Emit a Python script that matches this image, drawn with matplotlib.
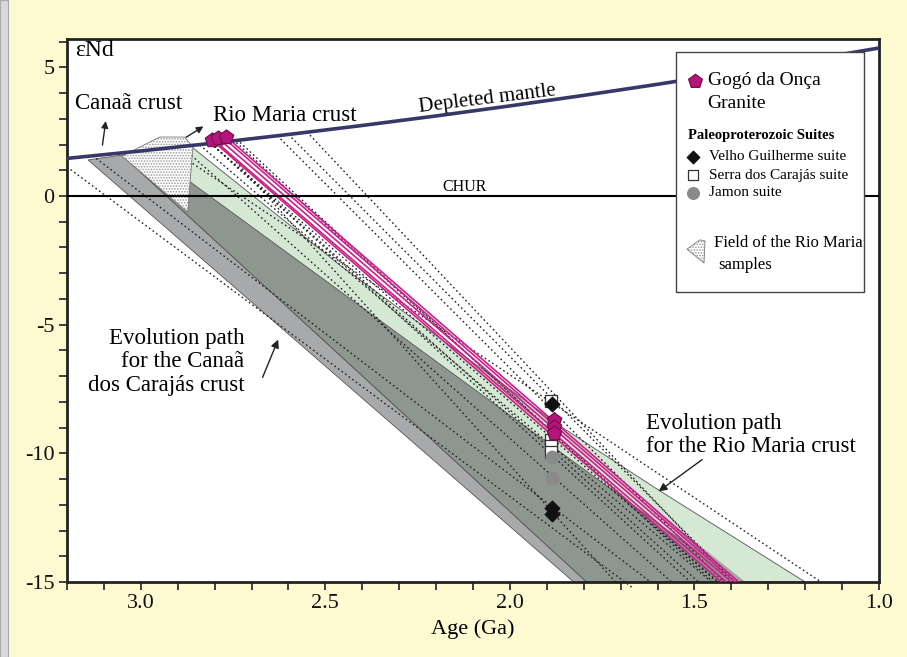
import matplotlib
matplotlib.use("Agg")
import matplotlib.pyplot as plt
from matplotlib.patches import Polygon, Rectangle

plt.rcParams['font.family'] = ['Liberation Serif', 'DejaVu Serif']
plt.rcParams['axes.unicode_minus'] = False
plt.rcParams['hatch.linewidth'] = 0.8

# Depleted mantle curve (age Ga, eNd)
dm_age = [3.2, 3.0, 2.8, 2.6, 2.4, 2.2, 2.0, 1.8, 1.6, 1.4, 1.2, 1.0]
dm_eps = [1.46, 1.75, 2.06, 2.39, 2.74, 3.11, 3.50, 3.91, 4.34, 4.79, 5.26, 5.75]

# Fields (age, eNd)
canaa_age = [3.143, 3.051, 1.792, 1.827]
canaa_eps = [1.40, 1.59, -15.0, -15.0]
rm_dark_age = [3.051, 2.986, 1.381, 1.792]
rm_dark_eps = [1.59, 1.80, -15.0, -15.0]
rm_green_age = [2.986, 2.859, 2.454, 1.868, 1.597, 1.200, 1.760]
rm_green_eps = [1.80, 1.87, -2.76, -8.90, -11.43, -15.0, -15.0]
wedge_age = [1.624, 1.362, 1.408]
wedge_eps = [-12.0, -15.0, -15.0]
rm_field_age = [3.051, 2.949, 2.881, 2.859, 2.873]
rm_field_eps = [1.55, 2.29, 2.29, 1.90, -0.62]

# Nd evolution lines of the Paleoproterozoic samples (start age, start eNd, end age, end eNd)
dotted = [
    (3.20, 1.13, 1.665, -15.25),
    (2.79, 2.09, 1.714, -15.0),
    (3.13, 1.56, 1.619, -15.0),
    (2.89, 1.92, 1.562, -15.0),
    (2.81, 2.04, 1.511, -15.0),
    (2.81, 2.04, 1.489, -15.0),
    (2.84, 1.98, 1.454, -15.0),
    (2.81, 2.04, 1.435, -15.0),
    (2.92, 1.84, 1.157, -15.0),
    (2.60, 2.39, 1.390, -15.0),
    (2.63, 2.34, 1.420, -15.0),
    (2.55, 2.49, 1.400, -15.0),
    (2.75, 2.19, 1.440, -15.0),
    (2.74, 2.20, 1.450, -15.0),
]

# Gogo da Onca Granite evolution lines
magenta = [
    (2.808, 2.18, 1.427, -15.0),
    (2.800, 2.15, 1.414, -15.0),
    (2.792, 2.26, 1.400, -15.0),
    (2.775, 2.25, 1.390, -15.0),
    (2.768, 2.29, 1.380, -15.0),
]

# Samples
gogo_age = [2.808, 2.792, 2.768, 1.881, 1.881, 1.881]
gogo_eps = [2.18, 2.26, 2.29, -8.71, -8.98, -9.21]
vg_age = [1.885, 1.887, 1.887]
vg_eps = [-8.08, -12.13, -12.36]
sc_age = [1.888, 1.890, 1.890, 1.890]
sc_eps = [-7.95, -9.5, -9.7, -9.95]
jam_age = [1.887, 1.885]
jam_eps = [-10.15, -10.96]

fig = plt.figure(figsize=(9.07, 6.57), dpi=100)
fig.patch.set_facecolor('#fdf9d1')
fig.patches.append(Rectangle((0, 0), 8/907, 1, transform=fig.transFigure,
                             facecolor='#d9d9d9', edgecolor='#aaaaaa', lw=0.8))
ax = fig.add_axes([67/907, 1-582/657, 812/907, 543/657])
ax.set_facecolor('white')

ax.add_patch(Polygon(list(zip(rm_green_age, rm_green_eps)), closed=True,
                     facecolor='#d4e8d4', edgecolor='#666666', lw=0.7, zorder=1))
ax.add_patch(Polygon(list(zip(canaa_age, canaa_eps)), closed=True,
                     facecolor='#a8a9ab', edgecolor='#555555', lw=0.6, zorder=2))
ax.add_patch(Polygon(list(zip(rm_dark_age, rm_dark_eps)), closed=True,
                     facecolor='#8e978f', edgecolor='#555555', lw=0.6, zorder=2))
ax.add_patch(Polygon(list(zip(wedge_age, wedge_eps)), closed=True,
                     facecolor='#a2a5a4', edgecolor='none', zorder=2))

for t0, e0, t1, e1 in dotted:
    ax.plot([t0, t1], [e0, e1], ls=(0, (1.2, 2)), color='#222222', lw=1.0,
            zorder=3, clip_on=(e1 >= -15.0))

ax.add_patch(Polygon(list(zip(rm_field_age, rm_field_eps)), closed=True,
                     facecolor='white', edgecolor='#9a9a9a', hatch='......', lw=0, zorder=4))
ax.add_patch(Polygon(list(zip(rm_field_age, rm_field_eps)), closed=True,
                     facecolor='none', edgecolor='#777777', lw=0.6, zorder=4))

for t0, e0, t1, e1 in magenta:
    ax.plot([t0, t1], [e0, e1], color='#cc1f8a', lw=1.2, zorder=5)

ax.axhline(0, color='black', lw=1.5, zorder=6)
ax.plot(dm_age, dm_eps, color='#383868', lw=2.6, zorder=6, solid_capstyle='butt')

ax.scatter(sc_age, sc_eps, marker='s', s=70, facecolor='white', edgecolor='#333333', lw=0.9, zorder=7)
ax.scatter(vg_age, vg_eps, marker='D', s=55, color='#111111', zorder=8)
ax.scatter(jam_age, jam_eps, marker='o', s=80, color='#8a8a8a', zorder=7)
ax.scatter(gogo_age, gogo_eps, marker='p', s=120, facecolor='#b5157a', edgecolor='#6e0d4a', lw=0.8, zorder=9)

ax.set_xlim(3.2, 1.0)
ax.set_ylim(-15, 6.1)
ax.set_xticks([3.0, 2.5, 2.0, 1.5, 1.0])
ax.set_xticklabels(['3.0', '2.5', '2.0', '1.5', '1.0'])
ax.set_xticks([round(3.2 - 0.1*i, 1) for i in range(23)], minor=True)
ax.set_yticks([5, 0, -5, -10, -15])
ax.set_yticks(range(-15, 7), minor=True)
ax.tick_params(which='both', direction='out', length=6, width=1.2, colors='#222222',
               labelsize=16, pad=3)
ax.tick_params(axis='both', labelcolor='#111111')
for s in ax.spines.values():
    s.set_linewidth(2.0)
    s.set_color('#222222')
ax.set_xlabel('Age (Ga)', fontsize=16, labelpad=4)

# annotations
ax.text(3.178, 5.67, 'εNd', fontsize=17, ha='left', va='center')
ax.text(3.178, 3.58, 'Canaã crust', fontsize=16.5, ha='left', va='center')
ax.annotate('', xy=(3.094, 3.02), xytext=(3.105, 1.87),
            arrowprops=dict(arrowstyle='-|>', color='#222222', lw=1.0, mutation_scale=10))
ax.text(2.805, 3.11, 'Rio Maria crust', fontsize=16.5, ha='left', va='center')
ax.annotate('', xy=(2.824, 2.76), xytext=(2.884, 2.22),
            arrowprops=dict(arrowstyle='-|>', color='#222222', lw=1.0, mutation_scale=10))
ax.text(2.062, 3.75, 'Depleted mantle', fontsize=15, ha='center', va='center', rotation=7)
ax.text(2.124, 0.33, 'CHUR', fontsize=11.5, ha='center', va='center')
ax.text(2.719, -6.45, 'Evolution path\nfor the Canaã\ndos Carajás crust', fontsize=16.5,
        ha='right', va='center', multialignment='right', linespacing=1.15)
ax.annotate('', xy=(2.625, -5.48), xytext=(2.673, -7.15),
            arrowprops=dict(arrowstyle='-|>', color='#222222', lw=1.0, mutation_scale=12))
ax.text(1.632, -9.29, 'Evolution path\nfor the Rio Maria crust', fontsize=16.5,
        ha='left', va='center', multialignment='left', linespacing=1.15)
ax.annotate('', xy=(1.603, -11.54), xytext=(1.473, -10.18),
            arrowprops=dict(arrowstyle='-|>', color='#222222', lw=1.0, mutation_scale=12))

# legend box
ax.add_patch(Rectangle((0.750, 0.534), 0.2315, 0.442, transform=ax.transAxes,
                       facecolor='white', edgecolor='#444444', lw=1.0, zorder=10))
ax.scatter([0.773], [0.9227], marker='p', s=110, facecolor='#b5157a', edgecolor='#6e0d4a',
           lw=0.8, transform=ax.transAxes, zorder=11)
ax.text(0.789, 0.9227, 'Gogó da Onça', fontsize=14, transform=ax.transAxes, va='center', zorder=11)
ax.text(0.789, 0.882, 'Granite', fontsize=14, transform=ax.transAxes, va='center', zorder=11)
ax.text(0.765, 0.8214, 'Paleoproterozoic Suites', fontsize=10.5, fontweight='bold',
        transform=ax.transAxes, va='center', zorder=11)
ax.scatter([0.771], [0.7827], marker='D', s=40, color='#111111', transform=ax.transAxes, zorder=11)
ax.scatter([0.771], [0.7495], marker='s', s=60, facecolor='white', edgecolor='#333333', lw=0.9,
           transform=ax.transAxes, zorder=11)
ax.scatter([0.771], [0.7164], marker='o', s=70, color='#8a8a8a', transform=ax.transAxes, zorder=11)
ax.text(0.7906, 0.7827, 'Velho Guilherme suite', fontsize=11, transform=ax.transAxes, va='center', zorder=11)
ax.text(0.7906, 0.7495, 'Serra dos Carajás suite', fontsize=11, transform=ax.transAxes, va='center', zorder=11)
ax.text(0.7906, 0.7164, 'Jamon suite', fontsize=11, transform=ax.transAxes, va='center', zorder=11)
icon = [(0.7635, 0.613), (0.7796, 0.630), (0.7857, 0.6280), (0.7845, 0.5875)]
ax.add_patch(Polygon(icon, closed=True, transform=ax.transAxes, facecolor='white',
                     edgecolor='#9a9a9a', hatch='......', lw=0, zorder=11))
ax.add_patch(Polygon(icon, closed=True, transform=ax.transAxes, facecolor='none',
                     edgecolor='#777777', lw=0.6, zorder=11))
ax.text(0.797, 0.624, 'Field of the Rio Maria', fontsize=12, transform=ax.transAxes, va='center', zorder=11)
ax.text(0.802, 0.584, 'samples', fontsize=12, transform=ax.transAxes, va='center', zorder=11)

fig.savefig('out.png', dpi=100, facecolor=fig.get_facecolor())
